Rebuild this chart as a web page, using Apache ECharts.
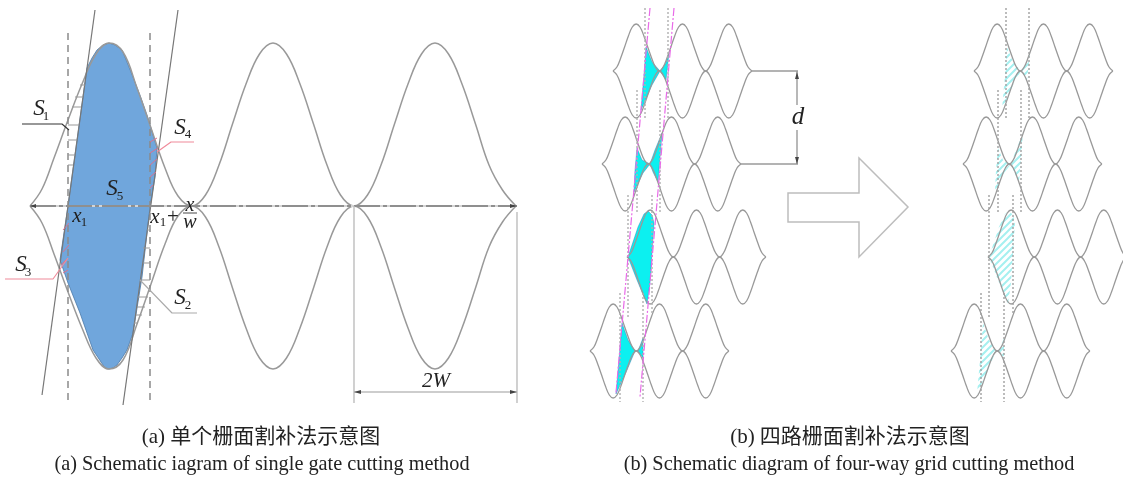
<!DOCTYPE html>
<html><head><meta charset="utf-8">
<style>html,body{margin:0;padding:0;background:#fff}#c{width:1123px;height:477px}</style>
<script src="https://cdn.jsdelivr.net/npm/echarts@6/dist/echarts.min.js"></script>
</head><body><div id="c"></div>
<script>
// ---- single gate (a)
const gateX=[30,42,54,68,82,96,109,123,137,151,165,178,192,205.5,219,232.5,246,259.5,273,286.5,300,313.5,327,340.5,354,367.5,381,394.5,408,421.5,435,448.5,462,475.5,489,502.5,516];
const gateUpperY=[206,189,158,120,84,54,43,52,88,128,168,196,206,195,165,124,84,54,43,54,84,124,165,195,206,195,165,124,84,54,43,54,84,124,165,190,206];
const gateLowerY=[206,223,254,292,328,358,369,360,324,284,244,216,206,217,247,288,328,358,369,358,328,288,247,217,206,217,247,288,328,358,369,358,328,288,247,222,206];
const blueOutline=[[87,68],[92,58],[97,50],[103,45],[109,43],[115,45],[122,50],[127,62],[133,77],[141,98],[148,118],[157,148],[155,177],[150,207],[147,233],[142,277],[133,333],[127,350],[122,358],[117,365],[113,368],[109,369],[105,368],[103,365],[93,350],[80,313],[68,283],[60,260],[68,206]];
const slantLinesA=[[[95,10],[42,395]],[[178,10],[123,405]]];
const dashedVerticalsA=[[[68,33],[68,400]],[[150,33],[150,400]]];
const hatchS1=[[[80,85],[85,85]],[[75,97],[83,97]],[[72,107],[81,107]],[[68,125],[79,125]],[[68,140],[77,140]],[[68,155],[75,155]],[[68,165],[73,165]]];
const hatchS2=[[[147,230],[150,230]],[[143,248],[150,248]],[[143,263],[150,263]],[[140,280],[150,280]],[[138,297],[148,297]],[[137,307],[145,307]],[[136,315],[142,315]],[[134,323],[138,323]]];
const hatchS4=[[[150,142],[157,138]],[[150,153],[158,148]],[[150,165],[157,159]],[[150,177],[156,172]],[[150,188],[153,185]]];
const hatchS3=[[[63,230],[69,223]],[[63,252],[69,245]],[[61,265],[68,258]],[[63,273],[68,270]]];
const leaderS1=[[22,124],[62,124],[69,130]];
const leaderS4=[[194,142],[171,142],[157,152]];
const leaderS3=[[5,279],[53,279],[68,258]];
const leaderS2=[[197,313],[172,313],[140,280]];
const centerLine=[[30,206],[517,206]];
const dim2W=[[[354,206],[354,403]],[[517,212],[517,403]],[[354,392],[517,392]]];
const arrowHeads=[[[354,392],[361,390],[361,394]],[[517,392],[510,390],[510,394]],[[30,206],[36,204],[36,208]],[[517,206],[510,204],[510,208]],[[797,72],[795,79],[799,79]],[[797,164],[795,157],[799,157]]];
// ---- four gates (b)
const lobeDx=[0,3.9,7.7,11.6,15.4,19.3,23.15,27,30.9,34.7,38.6,42.4,46.3];
const lobeDy=[0,-4,-13,-24,-35,-44,-47,-44,-35,-24,-13,-4,0];
const lobeStarts=[0,46.3,92.6];
const gateOrigins=[[613,71],[602,164],[627,257],[590,351]];
const panelOffset=361;
const cutRegions=[
 [[646,47],[652,62],[660,71],[652,85],[641,110],[644,75]],
 [[660,71],[666,63],[669,53],[666,80]],
 [[637,148],[642,160],[650,164],[643,173],[634,192],[635,170]],
 [[650,164],[655,150],[662,133],[658,182],[653,172]],
 [[648,211],[644,214],[638,227],[628,257],[637,280],[647,304],[650,283],[654,223],[652,215]],
 [[622,323],[628,340],[635,351],[627,370],[616,394],[619,360]],
 [[643,338],[638,351],[643,358]]
];
const magentaLines=[[[650,8],[616,393]],[[674,8],[640,397]]];
const dottedVerticals=[[645,8,120],[668,8,120],[637,90,212],[660,90,212],[628,195,317],[652,195,313],[620,293,402],[643,293,402]];
const dimD=[[[752,71],[798,71]],[[740,164],[798,164]],[[797,71],[797,105]],[[797,130],[797,164]]];
const bigArrow=[[788,193],[859,193],[859,158],[908,207],[859,257],[859,222],[788,222]];
const fractionBar=[[183,213],[197,213]];
// ---- text
const serif='"Liberation Serif","Noto Sans CJK SC",serif';
const labels=[
 ['S',39,109,23,1],['1',46,117,13,0],
 ['S',180,128,23,1],['4',188,135,13,0],
 ['S',112,189,23,1],['5',120,197,13,0],
 ['S',21,265,23,1],['3',28,273,13,0],
 ['S',180,298,23,1],['2',188,306,13,0],
 ['x',77,216,21,1],['1',84,223,13,0],
 ['x',155,217,21,1],['1',163,223,13,0],['+',173,217,21,0],
 ['x',190,206,20,1],['w',190,223,20,1],
 ['2W',436,381,21,1],['d',798,117,25,1]
];
const captions=[
 ['(a) 单个栅面割补法示意图',261,437,21,0],
 ['(a) Schematic iagram of single gate cutting method',262,465,20.3,0],
 ['(b) 四路栅面割补法示意图',850,437,21,0],
 ['(b) Schematic diagram of four-way grid cutting method',849,465,20.3,0]
];
// ---- build
function line(pts,color,width,type,smooth){return {type:'line',data:pts,showSymbol:false,symbol:'none',silent:true,animation:false,smooth:smooth||false,lineStyle:{color:color,width:width,type:type||'solid',cap:'butt'},z:5};}
function polygon(pts,style,z){return {type:'custom',data:[[0,0]],silent:true,animation:false,clip:false,z:z||3,renderItem:(p,api)=>({type:'polygon',shape:{points:pts.map(q=>api.coord(q))},style:style})};}
function hatch(){const c=document.createElement('canvas');c.width=c.height=7;const g=c.getContext('2d');g.fillStyle='#ffffff';g.fillRect(0,0,7,7);g.strokeStyle='#a5f0f0';g.lineWidth=2;g.beginPath();g.moveTo(-1,8);g.lineTo(8,-1);g.moveTo(-4,4);g.lineTo(4,-4);g.moveTo(3,11);g.lineTo(11,3);g.stroke();return {image:c,repeat:'repeat'};}
function textSeries(arr){return {type:'custom',data:arr.map(t=>[t[1],t[2]]),silent:true,animation:false,clip:false,z:10,renderItem:(p,api)=>{const t=arr[p.dataIndex],c=api.coord([t[1],t[2]]);return {type:'text',x:c[0],y:c[1],style:{text:t[0],align:'center',verticalAlign:'middle',fill:'#222',font:(t[4]?'italic ':'')+t[3]+'px '+serif}};}};}
const s=[];
s.push(polygon(blueOutline,{fill:'#70a6dc',stroke:'#4a78a8',lineWidth:0.8},2));
s.push(line(gateX.map((x,i)=>[x,gateUpperY[i]]),'#999',1.5,'solid',0.4));
s.push(line(gateX.map((x,i)=>[x,gateLowerY[i]]),'#999',1.5,'solid',0.4));
slantLinesA.forEach(l=>s.push(line(l,'#777',1.2)));
dashedVerticalsA.forEach(l=>s.push(line(l,'#8a8a8a',1.5,[7,5])));
hatchS1.concat(hatchS2).forEach(l=>s.push(line(l,'#999',1)));
hatchS4.concat(hatchS3).forEach(l=>s.push(line(l,'#d9738f',1)));
s.push(line(leaderS1,'#333',1.1));
s.push(line(leaderS4,'#f08a9a',1.1));
s.push(line(leaderS3,'#f08a9a',1.1));
s.push(line(leaderS2,'#aaa',1.1));
s.push(line(centerLine,'#d5d5d5',2));
s.push(line(centerLine,'#8f8f8f',2,[26,3,4,3]));
dim2W.forEach(l=>s.push(line(l,'#bdbdbd',1.4)));
arrowHeads.forEach(a=>s.push(polygon(a,{fill:'#444'},6)));
dimD.forEach(l=>s.push(line(l,'#9a9a9a',1.4)));
s.push(polygon(bigArrow,{fill:'#fff',stroke:'#bdbdbd',lineWidth:1.5}));
s.push(line(fractionBar,'#333',0.9));
const hatchFill=hatch();
[0,panelOffset].forEach((off,pi)=>{
  cutRegions.forEach(r=>s.push(polygon(r.map(q=>[q[0]+off,q[1]]),pi?{fill:hatchFill}:{fill:'#0cf0f0',stroke:'#2a6fb0',lineWidth:0.4},2)));
  gateOrigins.forEach(o=>{
    [1,-1].forEach(sign=>{
      const pts=[];
      lobeStarts.forEach((st,li)=>lobeDx.forEach((dx,i)=>{if(li&&!i)return;pts.push([o[0]+off+st+dx,o[1]+sign*lobeDy[i]]);}));
      s.push(line(pts,'#999',1.3,'solid',0.4));
    });
  });
  dottedVerticals.forEach(v=>s.push(line([[v[0]+off,v[1]],[v[0]+off,v[2]]],pi?'#a0a0a0':'#b0b0b0',1.4,[2,2])));
  if(!pi) magentaLines.forEach(l=>s.push(line(l,'#e86be8',1.2,[8,2,2,2])));
});
s.push(textSeries(labels));
s.push(textSeries(captions));
const chart=echarts.init(document.getElementById('c'),null,{renderer:'canvas'});
chart.setOption({backgroundColor:'#fff',animation:false,
 grid:{left:0,right:0,top:0,bottom:0},
 xAxis:{type:'value',min:0,max:1123,show:false},
 yAxis:{type:'value',min:0,max:477,inverse:true,show:false},
 series:s});
</script></body></html>
